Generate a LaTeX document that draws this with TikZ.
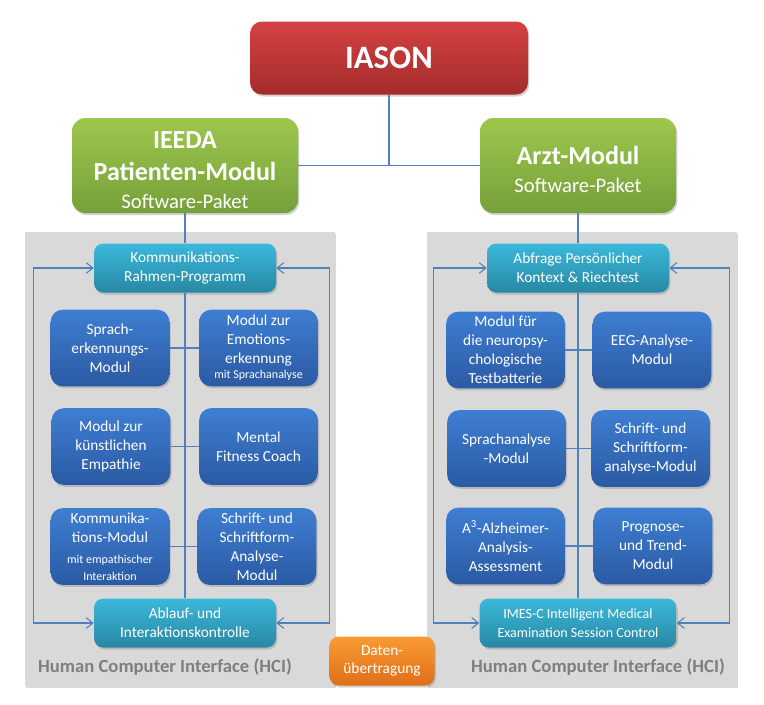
\documentclass[tikz,border=0pt]{standalone}
\usepackage{fontspec}
\setmainfont{Carlito}
\usepackage{tikz}
\usetikzlibrary{positioning}
\usetikzlibrary{arrows.meta}
\usetikzlibrary{shadows}
\definecolor{rotOben}{HTML}{D44242}
\definecolor{rotUnten}{HTML}{A52B2B}
\definecolor{gruenOben}{HTML}{9DC74C}
\definecolor{gruenUnten}{HTML}{76A03A}
\definecolor{tuerkisOben}{HTML}{3BB8DB}
\definecolor{tuerkisUnten}{HTML}{2887A3}
\definecolor{blauOben}{HTML}{3E7ED2}
\definecolor{blauUnten}{HTML}{2B5AA3}
\definecolor{orangeOben}{HTML}{F99B33}
\definecolor{orangeUnten}{HTML}{DF6F19}
\definecolor{feld}{HTML}{D9D9D9}
\definecolor{linie}{HTML}{4F81BD}
\definecolor{hcigrau}{HTML}{7F7F7F}
\tikzset{kasten/.style={rectangle,align=center,text=white,inner sep=0pt,
  drop shadow={opacity=0.35,shadow xshift=1pt,shadow yshift=-1.5pt}}}
\tikzset{haupt/.style={kasten,rounded corners=9pt,top color=rotOben,bottom color=rotUnten,
  minimum width=208.5pt,minimum height=54.75pt,font=\fontsize{24.5}{28}\selectfont\bfseries}}
\tikzset{paket/.style={kasten,rounded corners=10pt,top color=gruenOben,bottom color=gruenUnten,
  minimum width=169.5pt,minimum height=71.25pt,font=\fontsize{19.5}{24}\selectfont}}
\tikzset{rahmen/.style={kasten,rounded corners=7pt,top color=tuerkisOben,bottom color=tuerkisUnten,
  minimum width=136.5pt,minimum height=36.75pt,font=\fontsize{11.5}{14}\selectfont}}
\tikzset{modul/.style={kasten,rounded corners=9pt,top color=blauOben,bottom color=blauUnten,
  minimum width=89pt,minimum height=57.5pt,font=\fontsize{11.5}{14.3}\selectfont}}
\tikzset{daten/.style={kasten,rounded corners=7pt,top color=orangeOben,bottom color=orangeUnten,
  minimum width=78.75pt,minimum height=36.75pt,font=\fontsize{11.5}{14}\selectfont}}
\tikzset{panel/.style={fill=feld,drop shadow={opacity=0.3,shadow xshift=1pt,shadow yshift=-1.5pt}}}
\tikzset{hci/.style={text=hcigrau,font=\fontsize{14}{16}\selectfont\bfseries}}
\tikzset{verb/.style={draw=linie,line width=0.8pt}}
\tikzset{schleife/.style={verb,arrows={Straight Barb[length=5pt,width=8pt]-Straight Barb[length=5pt,width=8pt]}}}
\newcommand{\klein}{\fontsize{9}{10}\selectfont}
\newcommand{\paketname}{\fontsize{15.5}{17}\selectfont}

\begin{document}
\begin{tikzpicture}[x=0.75pt,y=-0.75pt]
\useasboundingbox (0,0) rectangle (764,704);
% grey HCI fields
\fill[panel] (25,232) rectangle (335,686);
\fill[panel] (427,232) rectangle (737,686);
\node[hci] (hciP) at (165,667) {Human Computer Interface (HCI)};
\node[hci] (hciA) at (598,667) {Human Computer Interface (HCI)};

\node[haupt] (iason) at (389,58) {IASON};
\node[paket] (pat) at (185,165.5) {\rule{0pt}{19pt}\bfseries IEEDA\\\bfseries Patienten-Modul\\[-3pt]{\paketname Software-Paket}};
\node[paket,minimum width=147pt] (arzt) at (578,165.5) {\rule{0pt}{20pt}\bfseries Arzt-Modul\\[-3pt]{\paketname Software-Paket}};

% patient side
\node[rahmen] (kr) at (185,268) {Kommunikations-\\Rahmen-Programm};
\node[rahmen] (ab) at (185,623) {Ablauf- und\\Interaktionskontrolle};
\node[modul] (Pa1) at (110,348) {Sprach-\\erkennungs-\\Modul};
\node[modul] (Pb1) at (258.5,348) {Modul zur\\Emotions-\\erkennung\\[-3pt]{\klein mit Sprachanalyse}};
\node[modul] (Pa2) at (111,446.5) {Modul zur\\künstlichen\\Empathie};
\node[modul] (Pb2) at (258.5,446.5) {Mental\\Fitness Coach};
\node[modul] (Pa3) at (110,546.5) {Kommunika-\\tions-Modul\\[2pt]{\klein mit empathischer}\\[-2pt]{\klein Interaktion}};
\node[modul] (Pb3) at (257,546.5) {Schrift- und\\Schriftform-\\Analyse-\\Modul};

% arzt side
\node[rahmen] (abf) at (578,268) {Abfrage Persönlicher\\Kontext \& Riechtest};
\node[rahmen,minimum width=147.75pt,font=\fontsize{10.5}{14}\selectfont] (imes) at (578,623) {IMES-C Intelligent Medical\\Examination Session Control};
\node[modul] (Aa1) at (505.5,350) {Modul für\\die neuropsy-\\chologische\\Testbatterie};
\node[modul] (Ab1) at (652,350) {EEG-Analyse-\\Modul};
\node[modul] (Aa2) at (506.5,448.5) {Sprachanalyse\\-Modul};
\node[modul] (Ab2) at (650.5,448.5) {Schrift- und\\Schriftform-\\analyse-Modul};
\node[modul] (Aa3) at (505.5,546) {A\textsuperscript{3}-Alzheimer-\\Analysis-\\Assessment};
\node[modul] (Ab3) at (653,546) {Prognose-\\und Trend-\\Modul};

\node[daten] (dat) at (382,661) {Daten-\\übertragung};

% connectors
\draw[verb] (iason) |- (pat);
\draw[verb] (iason) |- (arzt);
\draw[verb] (pat) -- (kr);
\draw[verb] (arzt) -- (abf);
\draw[verb] (kr) -- (ab);
\draw[verb] (abf) -- (imes);
\foreach \i in {1,2,3} {
	\draw[verb] (Pa\i) -- (Pb\i);
	\draw[verb] (Aa\i) -- (Ab\i);
}
\draw[schleife] (kr.west) -- ++(-60,0) |- (ab.west);
\draw[schleife] (kr.east) -- ++(53,0) |- (ab.east);
\draw[schleife] (abf.west) -- ++(-53,0) |- (imes.west);
\draw[schleife] (abf.east) -- ++(60,0) |- (imes.east);
\end{tikzpicture}
\end{document}
